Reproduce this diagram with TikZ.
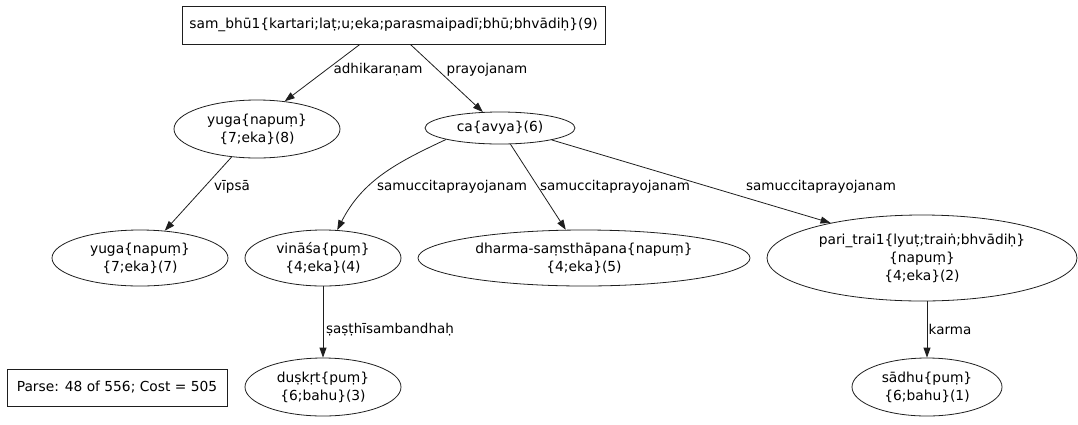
\documentclass[tikz,border=0pt]{standalone}
\usepackage{fontspec}
\setmainfont{DejaVu Sans}
\usepackage{tikz}
\usetikzlibrary{
    shapes.geometric,
    arrows.meta,
    positioning
}
\definecolor{inkgray}{RGB}{30,30,30}
\newcommand{\graphfont}{\fontsize{13.8}{18}\selectfont}
\newcommand{\relfont}{\fontsize{13.5}{18}\selectfont}
\tikzset{
    word/.style={
        ellipse,
        draw=inkgray,
        inner sep=0pt,
        align=center,
        font=\graphfont,
        line width=0.8pt
    },
    rootbox/.style={
        rectangle,
        draw=inkgray,
        inner sep=0pt,
        align=center,
        font=\graphfont,
        line width=0.8pt
    },
    rel/.style={
        inner sep=0pt,
        font=\relfont
    },
    arrow/.style={
        ->,
        >={Triangle[length=10pt,width=7pt]},
        draw=inkgray,
        line width=0.8pt
    }
}

\begin{document}
\begin{tikzpicture}[x=1pt, y=-1pt]
        \useasboundingbox (0,0) rectangle (1078,424);

        % Root of the parse
        \node[rootbox, minimum width=423pt, minimum height=38pt]
            (n9) at (393.5,25) {sam\_bhū1\{kartari;laṭ;u;eka;parasmaipadī;bhū;bhvādiḥ\}(9)};

        % Second rank
        \node[word, minimum width=166pt, minimum height=58pt]
            (n8) at (257,129) {yuga\{napuṃ\}\\\{7;eka\}(8)};
        \node[word, minimum width=150pt, minimum height=32pt]
            (n6) at (500,128) {ca\{avya\}(6)};

        % Third rank
        \node[word, minimum width=176pt, minimum height=56pt]
            (n7) at (140,258) {yuga\{napuṃ\}\\\{7;eka\}(7)};
        \node[word, minimum width=156pt, minimum height=56pt]
            (n4) at (323,258) {vināśa\{puṃ\}\\\{4;eka\}(4)};
        \node[word, minimum width=332pt, minimum height=56pt]
            (n5) at (584,258) {dharma-saṃsthāpana\{napuṃ\}\\\{4;eka\}(5)};
        \node[word, minimum width=310pt, minimum height=86pt]
            (n2) at (922,258) {pari\_trai1\{lyuṭ;traiṅ;bhvādiḥ\}\\\{napuṃ\}\\\{4;eka\}(2)};

        % Fourth rank
        \node[word, minimum width=156pt, minimum height=58pt]
            (n3) at (323,387) {duṣkṛt\{puṃ\}\\\{6;bahu\}(3)};
        \node[word, minimum width=150pt, minimum height=58pt]
            (n1) at (927,387) {sādhu\{puṃ\}\\\{6;bahu\}(1)};

        % Score of this parse
        \node[rootbox, minimum width=220pt, minimum height=37pt]
            (score) at (117,387.5) {Parse: 48 of 556; Cost = 505};

        % Relations
        \draw[arrow] (n9.-150) -- (n8.45);
        \draw[arrow] (n9.-49) -- (n6);
        \draw[arrow] (n8) -- (n7);
        \draw[arrow] (n6.192) to[out=205, in=63] (n4);
        \draw[arrow] (n6) -- (n5);
        \draw[arrow] (n6.-13) -- (n2.159);
        \draw[arrow] (n4) -- (n3);
        \draw[arrow] (n1 |- n2.south) -- (n1);

        \node[rel] (l98) at (378,70) {adhikaraṇam};
        \node[rel] (l96) at (487,70) {prayojanam};
        \node[rel] (l87) at (232,187) {vīpsā};
        \foreach \x/\name in {452/l64, 615/l65, 821/l62} {
            \node[rel] (\name) at (\x,187) {samuccitaprayojanam};
        }
        \node[rel] (l43) at (390,330) {ṣaṣṭhīsambandhaḥ};
        \node[rel] (l21) at (950,329) {karma};
    \end{tikzpicture}
\end{document}
